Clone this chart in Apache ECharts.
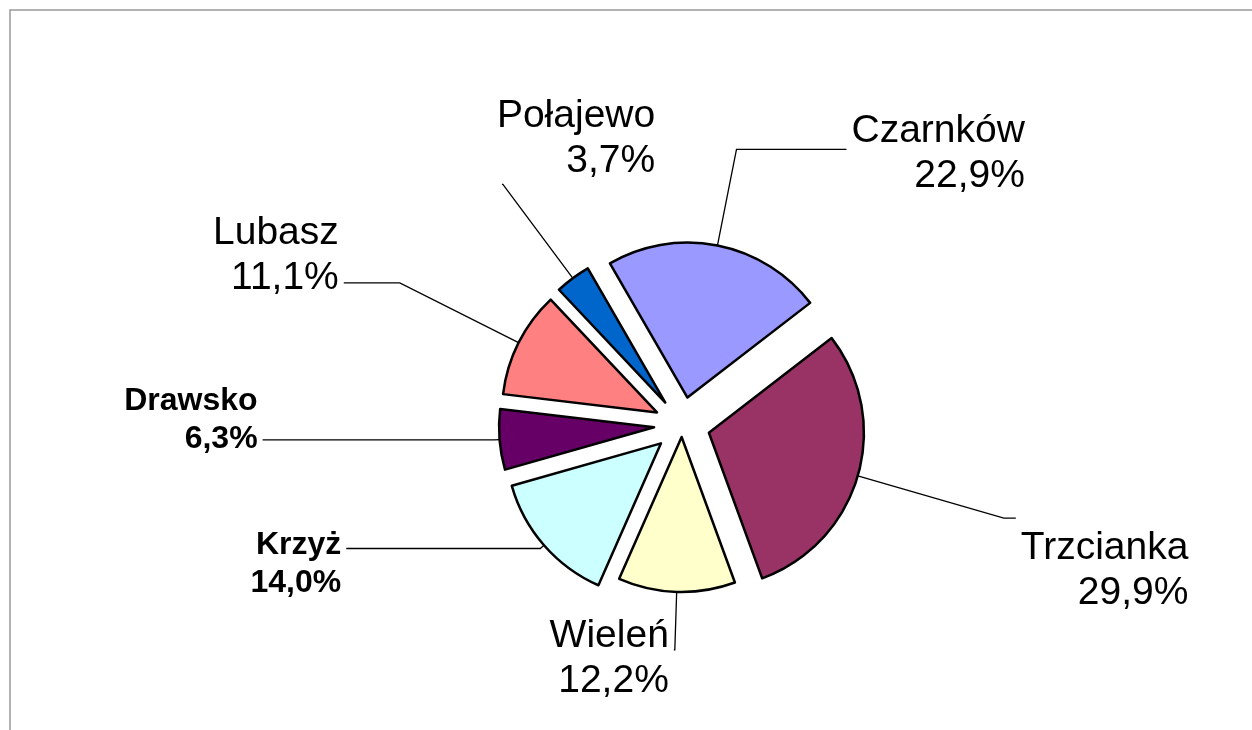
<!DOCTYPE html>
<html>
<head>
<meta charset="utf-8">
<script src="https://cdn.jsdelivr.net/npm/echarts@6/dist/echarts.min.js"></script>
<style>
  html, body { margin: 0; padding: 0; background: #fff; }
  #chart { width: 1252px; height: 730px; }
</style>
</head>
<body>
<div id="chart"></div>
<script>
// Udział gmin (%), clockwise from the first slice
const towns  = ['Czarnków', 'Trzcianka', 'Wieleń', 'Krzyż', 'Drawsko', 'Lubasz', 'Połajewo'];
const shares = [22.9, 29.9, 12.2, 14.0, 6.3, 11.1, 3.7];
const sliceColors = ['#9999FF', '#993366', '#FFFFCC', '#CCFFFF', '#660066', '#FF8080', '#0066CC'];
const boldTowns = ['Krzyż', 'Drawsko'];

// leader lines: [length, length2, label padding]
const LEADER = {
  'Czarnków':  [98, 110, [8, 0, 0, 0]],
  'Trzcianka': [152, 12, [106, 0, 0, 0]],
  'Wieleń':    [58, 1, [18, 0, 0, 0]],
  'Krzyż':     [5, 194, [32, 0, 0, 0]],
  'Drawsko':   [5, 232, [0, 0, 40, 0]],
  'Lubasz':    [133, 56, [0, 0, 54, 0]],
  'Połajewo':  [117, 1, [0, 0, 92, 0]],
};

const FONT = '"Liberation Sans", Arial, sans-serif';
const fmtPct = v => v.toFixed(1).replace('.', ',') + '%';

function buildData(visible) {
  return towns.map((name, i) => {
    const show = visible.includes(name);
    const [len, len2, pad] = LEADER[name];
    const itemStyle = show
      ? { color: sliceColors[i], borderColor: '#000', borderWidth: 2.5 }
      : { color: 'rgba(0,0,0,0)', borderWidth: 0 };
    const label = { show: show, padding: pad };
    const labelLine = { show: show, length: len, length2: len2 };
    return {
      name, value: shares[i], selected: true,
      itemStyle, label, labelLine,
      select: { itemStyle, label: { show: show }, labelLine: { show: show } },
    };
  });
}

function pieSeries(visible, offset) {
  return {
    type: 'pie',
    center: [682, 425],
    radius: 155,
    startAngle: 120,
    clockwise: true,
    selectedMode: 'multiple',
    selectedOffset: offset,
    avoidLabelOverlap: false,
    emphasis: { disabled: true },
    label: {
      position: 'outside',
      color: '#000',
      distanceToLabelLine: 5,
      formatter: p => {
        const k = boldTowns.includes(p.name) ? 'b' : 'n';
        return `{${k}|${p.name}}\n{${k}|${fmtPct(p.value)}}`;
      },
      rich: {
        n: { fontFamily: FONT, fontSize: 39, lineHeight: 45, color: '#000', align: 'right' },
        b: { fontFamily: FONT, fontSize: 32, lineHeight: 38, fontWeight: 'bold', color: '#000', align: 'right' },
      },
    },
    labelLine: {
      smooth: false,
      lineStyle: { color: '#000', width: 1.3 },
    },
    labelLayout: p => (towns[p.dataIndex] === 'Połajewo' ? { align: 'left' } : {}),
    data: buildData(visible),
  };
}

const chart = echarts.init(document.getElementById('chart'));
chart.setOption({
  animation: false,
  backgroundColor: '#fff',
  graphic: [{
    type: 'rect',
    silent: true,
    shape: { x: 10, y: 10, width: 1400, height: 900 },
    style: { fill: 'none', stroke: '#999', lineWidth: 1.5 },
  }],
  series: [
    pieSeries(towns.filter(t => t !== 'Wieleń'), 28),
    pieSeries(['Wieleń'], 12),
  ],
});
</script>
</body>
</html>
